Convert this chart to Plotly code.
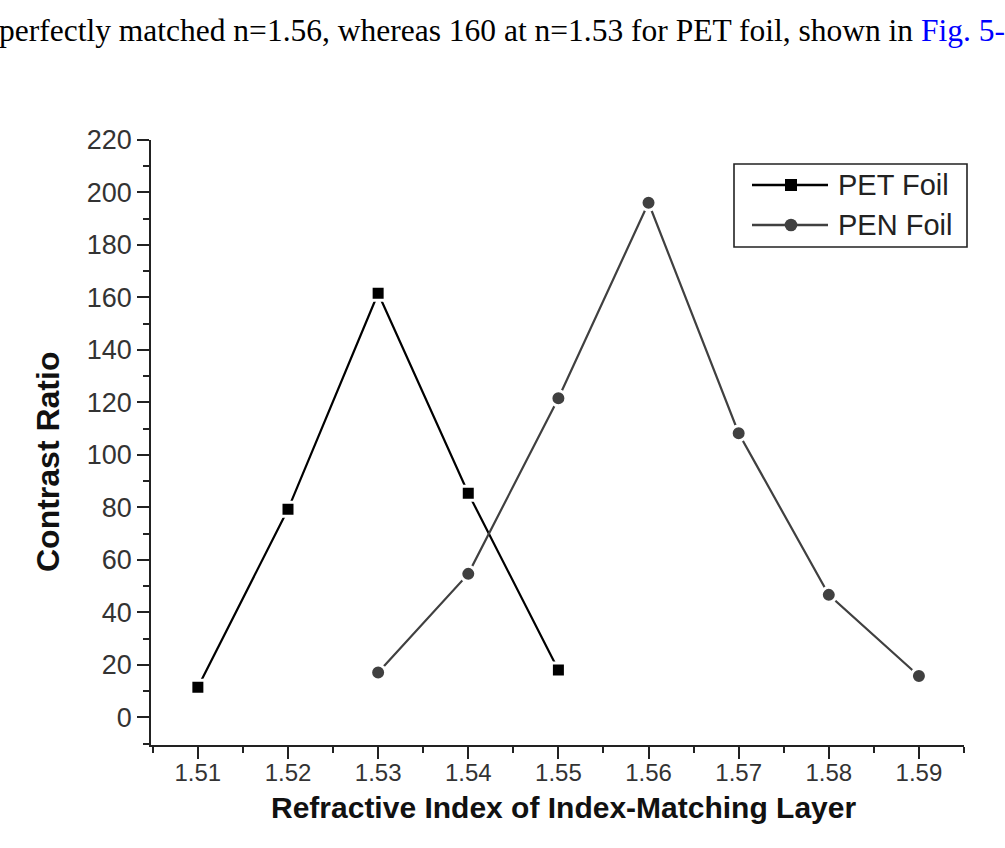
import plotly.graph_objects as go

# ---- data ----
pet_x = [1.51, 1.52, 1.53, 1.54, 1.55]
pet_y = [11.5, 79.3, 161.6, 85.4, 18.1]
pen_x = [1.53, 1.54, 1.55, 1.56, 1.57, 1.58, 1.59]
pen_y = [17.1, 54.7, 121.6, 196.1, 108.3, 46.7, 15.8]
series_names = ["PET Foil", "PEN Foil"]
x_title = "Refractive Index of Index-Matching Layer"
y_title = "Contrast Ratio"
caption = ('perfectly matched n=1.56, whereas 160 at n=1.53 for PET foil, shown in '
           '<span style="color:#0000ff">Fig. 5-</span>')

PET_COLOR = "#000000"
PEN_COLOR = "#404040"
FONT = "Liberation Sans, Arial, sans-serif"

# plot-area pixel geometry
W, H = 1005, 848
L, R, T, B = 151, 41, 140, 103
PW, PH = W - L - R, H - T - B


def px(xp):
    return (xp - L) / PW


def py(yp):
    return (H - B - yp) / PH


fig = go.Figure()
fig.add_trace(go.Scatter(
    x=pet_x, y=pet_y, mode="lines+markers", name=series_names[0],
    line=dict(color=PET_COLOR, width=2.2),
    marker=dict(symbol="square", size=14, color=PET_COLOR,
                line=dict(color="white", width=3)),
    showlegend=False))
fig.add_trace(go.Scatter(
    x=pen_x, y=pen_y, mode="lines+markers", name=series_names[1],
    line=dict(color=PEN_COLOR, width=2.2),
    marker=dict(symbol="circle", size=15, color=PEN_COLOR,
                line=dict(color="white", width=3)),
    showlegend=False))

axis_common = dict(
    showline=True, linecolor="#222222", linewidth=1.6,
    ticks="outside", ticklen=12, tickwidth=1.6, tickcolor="#222222",
    showgrid=False, zeroline=False,
)
fig.update_xaxes(range=[1.5048, 1.595], tick0=1.51, dtick=0.01, tickformat=".2f",
                 tickfont=dict(family=FONT, size=24, color="#333333"),
                 ticklabelstandoff=-7,
                 minor=dict(ticks="outside", ticklen=6, tickwidth=1.6,
                            tickcolor="#222222", dtick=0.005, tick0=1.505),
                 **axis_common)
fig.update_yaxes(range=[-10.5, 220], tick0=0, dtick=20,
                 tickfont=dict(family=FONT, size=27, color="#333333"),
                 minor=dict(ticks="outside", ticklen=6, tickwidth=1.6,
                            tickcolor="#222222", dtick=10, tick0=0),
                 **axis_common)

annotations = [
    dict(text="<b>%s</b>" % x_title, x=px(563), y=py(807), xref="paper", yref="paper",
         showarrow=False, xanchor="center", yanchor="middle",
         font=dict(family=FONT, size=30, color="#111111")),
    dict(text="<b>%s</b>" % y_title, x=px(48), y=py(462), xref="paper", yref="paper",
         showarrow=False, xanchor="center", yanchor="middle", textangle=-90,
         font=dict(family=FONT, size=32, color="#111111")),
    dict(text=caption, x=px(-3), y=py(31), xref="paper", yref="paper",
         showarrow=False, xanchor="left", yanchor="middle",
         font=dict(family="Liberation Serif, Times New Roman, serif", size=31.5, color="#000000")),
]

# custom legend
shapes = [dict(type="rect", xref="paper", yref="paper",
               x0=px(734), x1=px(967), y0=py(247), y1=py(164),
               line=dict(color="#222222", width=1.6), fillcolor="white", layer="above")]
rows = [(185, PET_COLOR, "square", series_names[0]), (225, PEN_COLOR, "circle", series_names[1])]
for yrow, col, sym, name in rows:
    shapes.append(dict(type="line", xref="paper", yref="paper",
                       x0=px(752), x1=px(828), y0=py(yrow), y1=py(yrow),
                       line=dict(color=col, width=2.5), layer="above"))
    h = 6 if sym == "square" else 6.3
    shapes.append(dict(type="rect" if sym == "square" else "circle",
                       xref="paper", yref="paper",
                       xsizemode="pixel", ysizemode="pixel",
                       xanchor=px(791), yanchor=py(yrow),
                       x0=-h, x1=h, y0=-h, y1=h,
                       line=dict(color=col, width=0), fillcolor=col, layer="above"))
    annotations.append(dict(text=name, x=px(836), y=py(yrow), xref="paper", yref="paper",
                            showarrow=False, xanchor="left", yanchor="middle",
                            font=dict(family=FONT, size=29, color="#222222")))

fig.update_layout(
    width=W, height=H,
    margin=dict(l=L, r=R, t=T, b=B, pad=0),
    plot_bgcolor="white", paper_bgcolor="white",
    showlegend=False,
    annotations=annotations, shapes=shapes,
)

fig.write_html("out.html")
